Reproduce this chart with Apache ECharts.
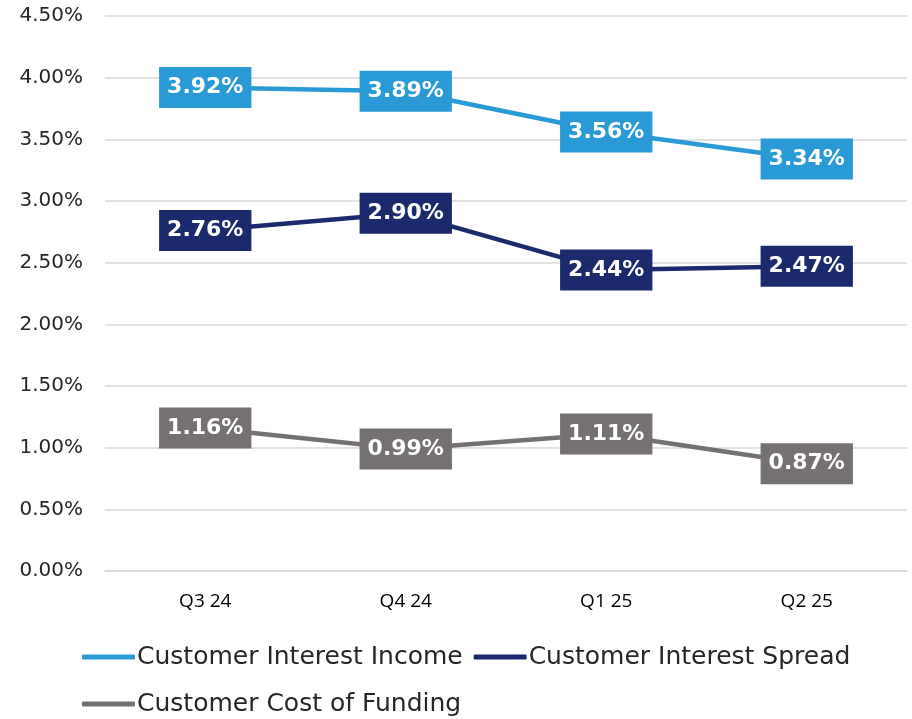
<!DOCTYPE html>
<html>
<head>
<meta charset="utf-8">
<script src="https://cdn.jsdelivr.net/npm/echarts@6/dist/echarts.min.js"></script>
<style>
  html, body { margin: 0; padding: 0; background: #fff; }
  #chart { width: 912px; height: 719px; }
</style>
</head>
<body>
<div id="chart"></div>
<script>
// quarters on the x axis
const quarters = ['Q3 24', 'Q4 24', 'Q1 25', 'Q2 25']
// values in percent
const interestIncome = [3.92, 3.89, 3.56, 3.34]
const interestSpread = [2.76, 2.90, 2.44, 2.47]
const costOfFunding = [1.16, 0.99, 1.11, 0.87]

const colors = ['#2A9AD6', '#1B2A6C', '#767171']

const chart = echarts.init(document.getElementById('chart'))

function makeSeries(name, data, color) {
  return {
    name: name,
    type: 'line',
    data: data,
    symbol: 'circle',
    symbolSize: 1,
    lineStyle: { width: 4.5, color: color },
    itemStyle: { color: color },
    label: {
      show: true,
      position: 'inside',
      formatter: p => p.value.toFixed(2) + '%',
      color: '#fff',
      fontWeight: 'bold',
      fontSize: 22,
      fontFamily: 'DejaVu Sans',
      backgroundColor: color,
      padding: [10, 8, 9, 8]
    }
  }
}

chart.setOption({
  animation: false,
  grid: { left: 105, right: 5, top: 16, bottom: 148 },
  legend: {
    left: 77,
    top: 634,
    width: 830,
    itemWidth: 53,
    itemHeight: 5,
    itemGap: 11,
    icon: 'roundRect',
    textStyle: { fontSize: 25, lineHeight: 36, color: '#262626', fontFamily: 'DejaVu Sans', padding: [0, 0, 0, -3] },
    data: ['Customer Interest Income', 'Customer Interest Spread', 'Customer Cost of Funding']
  },
  xAxis: {
    type: 'category',
    data: quarters,
    axisLine: { lineStyle: { color: '#d9d9d9', width: 1.5 } },
    axisTick: { show: false },
    axisLabel: { fontSize: 19, color: '#000', margin: 21, fontFamily: 'Open Sans' }
  },
  yAxis: {
    type: 'value',
    min: 0,
    max: 4.5,
    interval: 0.5,
    axisLabel: {
      formatter: v => v.toFixed(2) + '%',
      fontSize: 20,
      color: '#262626',
      margin: 22,
      fontFamily: 'DejaVu Sans'
    },
    splitLine: { lineStyle: { color: '#d9d9d9', width: 1.5 } }
  },
  series: [
    makeSeries('Customer Interest Income', interestIncome, colors[0]),
    makeSeries('Customer Interest Spread', interestSpread, colors[1]),
    makeSeries('Customer Cost of Funding', costOfFunding, colors[2])
  ]
})
</script>
</body>
</html>
